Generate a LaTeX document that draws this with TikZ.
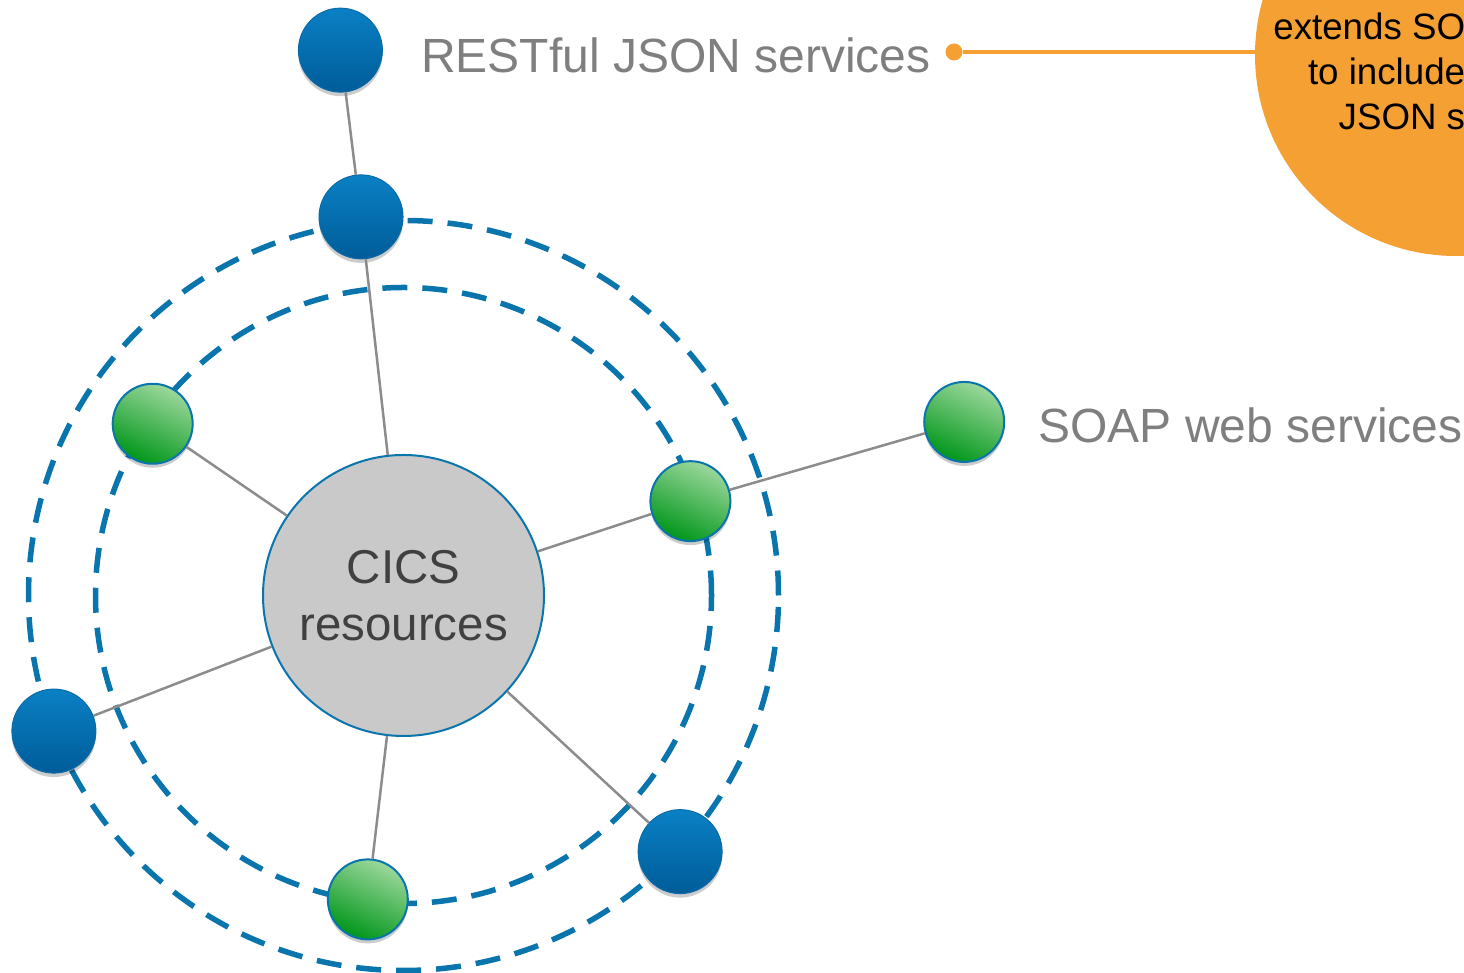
\documentclass[tikz,border=0pt]{standalone}
\usepackage{fontspec}
\setmainfont{Liberation Sans}
\usetikzlibrary{positioning,shadows}
\definecolor{bluetop}{HTML}{0A80C4}
\definecolor{bluebot}{HTML}{005C99}
\definecolor{blueedge}{HTML}{0A6BA8}
\definecolor{greenlight}{HTML}{9CD89C}
\definecolor{greendark}{HTML}{00961A}
\definecolor{ringblue}{HTML}{0A74AD}
\definecolor{coregray}{HTML}{C9C9C9}
\definecolor{linegray}{HTML}{8C8C8C}
\definecolor{labelgray}{HTML}{7F7F7F}
\definecolor{darktext}{HTML}{404040}
\definecolor{noteorange}{HTML}{F4A033}
\tikzset{
    %Define style for the hub
    hubnode/.style={
           circle,
           draw=ringblue, line width=2pt,
           fill=coregray,
           minimum size=281pt,
           inner sep=0pt,
           align=center,
           text=darktext,
           font=\fontsize{47.5}{57}\selectfont
           },
    %Define style for balls
    blueball/.style={
           circle,
           draw=blueedge, line width=1pt,
           top color=bluetop, bottom color=bluebot,
           minimum size=84pt,
           inner sep=0pt,
           drop shadow={shadow xshift=0pt, shadow yshift=-4pt, opacity=.2, fill=black}
           },
    greenball/.style={
           circle,
           draw=ringblue, line width=2pt,
           top color=greenlight, bottom color=greendark, shading angle=-25,
           minimum size=80pt,
           inner sep=0pt,
           drop shadow={shadow xshift=0pt, shadow yshift=-4pt, opacity=.2, fill=black}
           },
    servicelabel/.style={
           inner sep=0pt,
           text=labelgray,
           font=\fontsize{48}{57.6}\selectfont
           },
    % Define line styles
    ring/.style={draw=ringblue, line width=5.5pt, dash pattern=on 25pt off 15pt},
    spoke/.style={draw=linegray, line width=2.5pt},
    leader/.style={draw=noteorange, line width=4pt}
}

\begin{document}
\begin{tikzpicture}[x=1pt,y=1pt]
\useasboundingbox (0,0) rectangle (1464,973);
 %rings
\coordinate (hub) at (403.5,377.5);
\draw[ring] (hub) circle (308);
\draw[ring] (hub) circle (375);
 %nodes
\node[hubnode](cics) at (hub){CICS\\resources};
\node[blueball](rest) at ([shift={(96.6:549)}]hub){};
\node[blueball](b1) at ([shift={(96.4:381)}]hub){};
\node[blueball](b2) at ([shift={(201.2:375)}]hub){};
\node[blueball](b3) at ([shift={(-42.8:377)}]hub){};
\node[greenball](g1) at ([shift={(145.6:304)}]hub){};
\node[greenball](g2) at ([shift={(18.2:302)}]hub){};
\node[greenball](g3) at ([shift={(263.3:306)}]hub){};
\node[greenball](soap) at ([shift={(17.2:587)}]hub){};
\node[servicelabel, right=38pt of rest, yshift=-5pt](restlabel){RESTful JSON services};
\node[servicelabel, right=33pt of soap, yshift=-3pt](soaplabel){SOAP web services};
 %note
\node[circle, fill=noteorange, minimum size=402pt](note) at (1456,918){};
\node[circle, fill=noteorange, minimum size=17pt, inner sep=0pt](knob) at (954,921){};
\node[align=center, anchor=base, inner sep=0pt, font=\fontsize{36.7}{45}\selectfont](notetext) at (1460,843){extends SOAP support\\to include RESTful\\JSON services};
\draw[leader] (knob) -- (knob -| note.west);
 \path[spoke]
    (cics) edge (b1) edge (b2) edge (b3)
           edge (g1) edge (g2) edge (g3)
    (b1) edge (rest)
    (g2) edge (soap);
\end{tikzpicture}
\end{document}
